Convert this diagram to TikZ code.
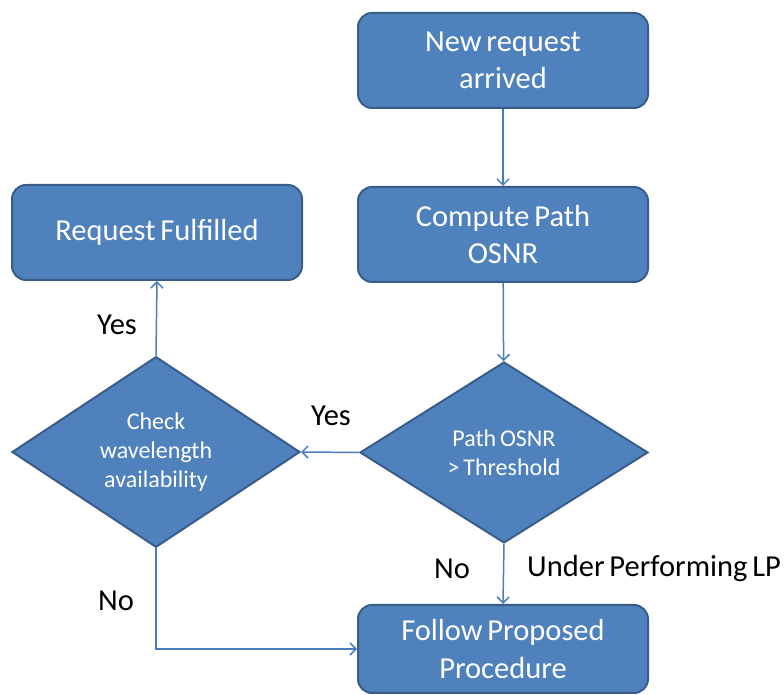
\documentclass[tikz,border=0pt]{standalone}
\usepackage{fontspec}
\setmainfont{Carlito}[WordSpace=0.7]
\usetikzlibrary{shapes.geometric,arrows.meta}
\definecolor{boxfill}{HTML}{4F81BD}
\definecolor{boxline}{HTML}{385D8A}
\definecolor{linkcol}{HTML}{4A7EBB}

\begin{document}
\begin{tikzpicture}[x=1pt,y=1pt,
  stepbox/.style={draw=boxline, line width=2pt, fill=boxfill, rounded corners=14pt,
    minimum width=290pt, minimum height=95pt, text=white, align=center,
    font=\fontsize{30.5}{37.5}\selectfont, inner sep=0pt},
  decision/.style={diamond, draw=boxline, line width=2pt, fill=boxfill,
    minimum width=288pt, minimum height=181pt, text=white, align=center,
    font=\fontsize{24}{29}\selectfont, inner sep=0pt},
  link/.style={draw=linkcol, line width=1.5pt, -{Straight Barb[length=6pt,width=12pt]}},
  tag/.style={font=\fontsize{30.5}{36}\selectfont, text=black, inner sep=0pt}
]
\useasboundingbox (0,0) rectangle (784,695);

% process boxes
\node[stepbox] (arrive) at (503,634.5) {New request\\arrived};
\node[stepbox] (osnr) at (503,460.5) {Compute Path\\OSNR};
\node[stepbox] (done) at (157,462.5) {Request Fulfilled};
\node[stepbox, minimum height=88pt] (follow) at (503,46) {Follow Proposed\\Procedure};

% decisions
\node[decision] (thresh) at (504,242.5) {Path OSNR\\> Threshold};
\node[decision] (wave) at (156,243) {Check\\wavelength\\availability};

% connectors
\draw[link] (arrive) -- (osnr);
\draw[link] (osnr) -- (thresh);
\draw[link] (thresh.west) -- (wave.east);
\draw[link] (wave.north) -- (done.south);
\draw[link] (thresh.south) -- (follow.north);
\draw[link] (wave.south) |- (follow.west);

% branch labels
\node[tag] (yesright) at (331,279) {Yes};
\node[tag] (yesup) at (117,370) {Yes};
\node[tag] (nodown) at (452,126) {No};
\node[tag, anchor=west] (under) at (527,126) {Under Performing LP};
\node[tag] (noleft) at (116,94) {No};
\end{tikzpicture}
\end{document}
